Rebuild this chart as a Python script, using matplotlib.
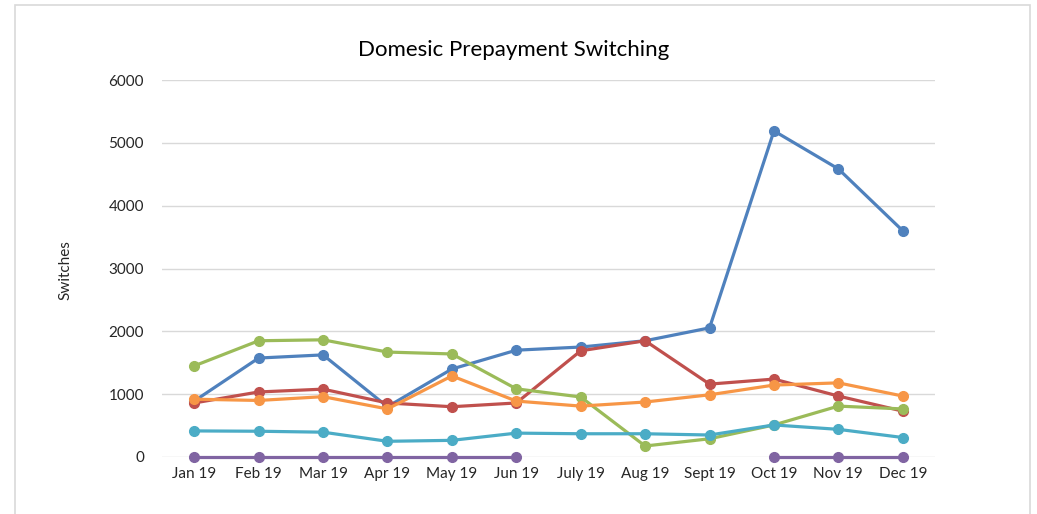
import numpy as np
import matplotlib
matplotlib.use("Agg")
import matplotlib.pyplot as plt
from matplotlib.patches import Rectangle

months = ["Jan 19", "Feb 19", "Mar 19", "Apr 19", "May 19", "Jun 19",
          "July 19", "Aug 19", "Sept 19", "Oct 19", "Nov 19", "Dec 19"]

blue = [890, 1575, 1625, 800, 1400, 1700, 1750, 1850, 2055, 5190, 4585, 3600]
red = [860, 1035, 1080, 860, 800, 860, 1690, 1850, 1160, 1240, 970, 730]
green = [1450, 1850, 1865, 1670, 1640, 1085, 955, 175, 290, 510, 810, 765]
orange = [920, 900, 960, 765, 1290, 890, 810, 875, 990, 1145, 1180, 970]
cyan = [415, 410, 395, 250, 265, 380, 370, 370, 350, 510, 440, 310]
purple = [0, 0, 0, 0, 0, 0, np.nan, np.nan, np.nan, 0, 0, 0]

series = [
    (blue, "#4F81BD"),
    (red, "#C0504D"),
    (green, "#9BBB59"),
    (purple, "#8064A2"),
    (cyan, "#4BACC6"),
    (orange, "#F79646"),
]

plt.rcParams['font.family'] = ['Lato', 'DejaVu Sans']

W, H = 1037, 514
fig = plt.figure(figsize=(W / 100, H / 100), dpi=100)
fig.patches.append(Rectangle((15 / W, -0.05), (1030 - 15) / W, 1.05 - 5 / H,
                             transform=fig.transFigure, fill=False,
                             edgecolor="#D9D9D9", linewidth=1.2))

left, right, top, bottom = 162, 935, 80, 457
ax = fig.add_axes([left / W, 1 - bottom / H, (right - left) / W, (bottom - top) / H])

x = np.arange(len(months))
for vals, col in series:
    ax.plot(x, vals, color=col, linewidth=2.3, marker="o", markersize=7,
            solid_capstyle="round", zorder=3, clip_on=False)

ax.set_xlim(-0.5, 11.5)
ax.set_ylim(0, 6000)
ax.set_yticks(range(0, 6001, 1000))
ax.set_xticks(x)
ax.set_xticklabels(months)
ax.grid(axis="y", color="#D9D9D9", linewidth=1)
ax.set_axisbelow(True)
for s in ax.spines.values():
    s.set_visible(False)
ax.tick_params(axis="both", length=0, labelsize=11, colors="#404040", labelcolor="#262626")
ax.tick_params(axis="y", pad=13)
ax.tick_params(axis="x", pad=7)

fig.text(514 / W, 1 - 50 / H, "Domesic Prepayment Switching", ha="center", va="center",
         fontsize=16, color="#000000")
fig.text(65 / W, 1 - 270 / H, "Switches", ha="center", va="center", rotation=90,
         fontsize=11, color="#262626")

fig.savefig("out.png", dpi=100)
